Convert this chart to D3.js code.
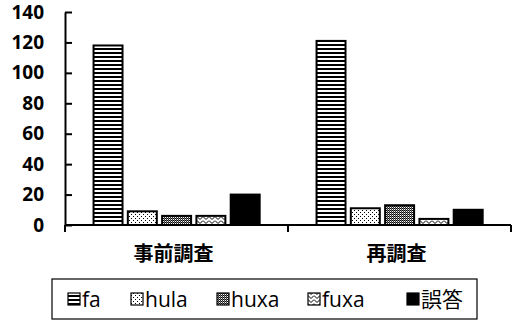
<!DOCTYPE html>
<html><head><meta charset="utf-8">
<script src="https://cdn.jsdelivr.net/npm/d3@7"></script>
<style>body{margin:0;background:#fff}svg{display:block}</style>
</head><body>
<svg id="c" width="512" height="322"></svg>
<script>
const categories = ["事前調査", "再調査"];
const seriesNames = ["fa", "hula", "huxa", "fuxa", "誤答"];
const valuesPre = [118, 9, 6, 6, 20];
const valuesRe = [121, 11, 13, 4, 10];
const yTicks = [0, 20, 40, 60, 80, 100, 120, 140];

const data = [valuesPre, valuesRe];
const svg = d3.select("#c");
const defs = svg.append("defs");

function pat(id, w, h, draw){
  const p = defs.append("pattern").attr("id", id).attr("patternUnits","userSpaceOnUse")
    .attr("width", w).attr("height", h);
  p.append("rect").attr("width", w).attr("height", h).attr("fill", "#fff");
  draw(p);
}
pat("p-fa", 4, 4, p => p.append("rect").attr("y",0).attr("width",4).attr("height",2).attr("fill","#000"));
pat("p-hula", 4, 4, p => {
  p.append("rect").attr("x",0).attr("y",0).attr("width",1).attr("height",1).attr("fill","#000");
  p.append("rect").attr("x",2).attr("y",2).attr("width",1).attr("height",1).attr("fill","#000");
});
pat("p-huxa", 2, 2, p => {
  p.append("rect").attr("x",0).attr("y",0).attr("width",1).attr("height",1).attr("fill","#000");
  p.append("rect").attr("x",1).attr("y",1).attr("width",1).attr("height",1).attr("fill","#333");
  p.append("rect").attr("x",1).attr("y",0).attr("width",1).attr("height",1).attr("fill","#777");
});
pat("p-fuxa", 6, 4, p => {
  p.append("path").attr("d","M0,0.5 L3,3.5 L6,0.5").attr("fill","none").attr("stroke","#000").attr("stroke-width",1);
});
const fills = {"fa":"url(#p-fa)","hula":"url(#p-hula)","huxa":"url(#p-huxa)","fuxa":"url(#p-fuxa)","誤答":"#000"};

const mLeft = 65, mRight = 511, mTop = 12, mBottom = 225;
const x0 = d3.scaleBand().domain(categories).range([mLeft, mRight]).padding(0);
const bw = x0.bandwidth();
const x1 = d3.scaleBand().domain(seriesNames).range([bw*0.128, bw*0.873]).paddingInner(0.155).paddingOuter(0);
const y = d3.scaleLinear().domain([0, 140]).range([mBottom, mTop]);

const g = svg.append("g");
categories.forEach((c, ci) => {
  const gg = g.append("g").attr("transform", `translate(${x0(c)},0)`);
  gg.selectAll("rect").data(seriesNames.map((s, si) => ({s, v: data[ci][si]})))
    .join("rect")
    .attr("x", d => x1(d.s))
    .attr("y", d => y(d.v))
    .attr("width", x1.bandwidth())
    .attr("height", d => y(0) - y(d.v))
    .attr("fill", d => fills[d.s])
    .attr("stroke", "#000").attr("stroke-width", 2);
});

const ya = svg.append("g").attr("transform", `translate(${mLeft},0)`)
  .call(d3.axisLeft(y).tickValues(yTicks).tickSizeInner(-7).tickSizeOuter(0).tickPadding(21));
ya.select(".domain").attr("stroke","#000").attr("stroke-width",2);
ya.selectAll(".tick line").attr("stroke","#000").attr("stroke-width",2);
ya.selectAll(".tick text").attr("font-family","'Open Sans', sans-serif").attr("font-size",19)
  .attr("font-weight",700).attr("fill","#000");

const xa = svg.append("g").attr("transform", `translate(0,${mBottom})`);
xa.append("line").attr("x1", mLeft).attr("x2", mRight).attr("stroke","#000").attr("stroke-width",2);
const edges = categories.map(c => x0(c)).concat([x0(categories[categories.length-1]) + bw]);
xa.selectAll("line.t").data(edges).join("line").attr("class","t")
  .attr("x1", d => d).attr("x2", d => d).attr("y1", 0).attr("y2", 7)
  .attr("stroke","#000").attr("stroke-width",2);
xa.selectAll("text").data(categories).join("text")
  .attr("x", d => x0(d) + bw/2 - 3).attr("y", 36)
  .attr("text-anchor","middle")
  .attr("font-family","'Noto Sans CJK JP', sans-serif").attr("font-size",20).attr("font-weight",700)
  .text(d => d);

const lg = svg.append("g");
lg.append("rect").attr("x",52).attr("y",279).attr("width",425).attr("height",40)
  .attr("fill","#fff").attr("stroke","#000").attr("stroke-width",1.2);
const legX = [68, 131, 217, 308, 407];
const items = lg.selectAll("g.item").data(seriesNames).join("g").attr("class","item")
  .attr("transform", (d,i) => `translate(${legX[i]},299)`);
items.append("rect").attr("x",0).attr("y",-6).attr("width",12).attr("height",12)
  .attr("fill", d => fills[d]).attr("stroke","#000").attr("stroke-width",1.2);
items.append("text").attr("x",14).attr("y",0).attr("dy","0.36em")
  .attr("font-family", d => /[^\x00-\x7f]/.test(d) ? "'Noto Sans CJK JP', sans-serif" : "'Open Sans', sans-serif")
  .attr("font-size",21).attr("fill","#000")
  .text(d => d);
</script>
</body></html>
